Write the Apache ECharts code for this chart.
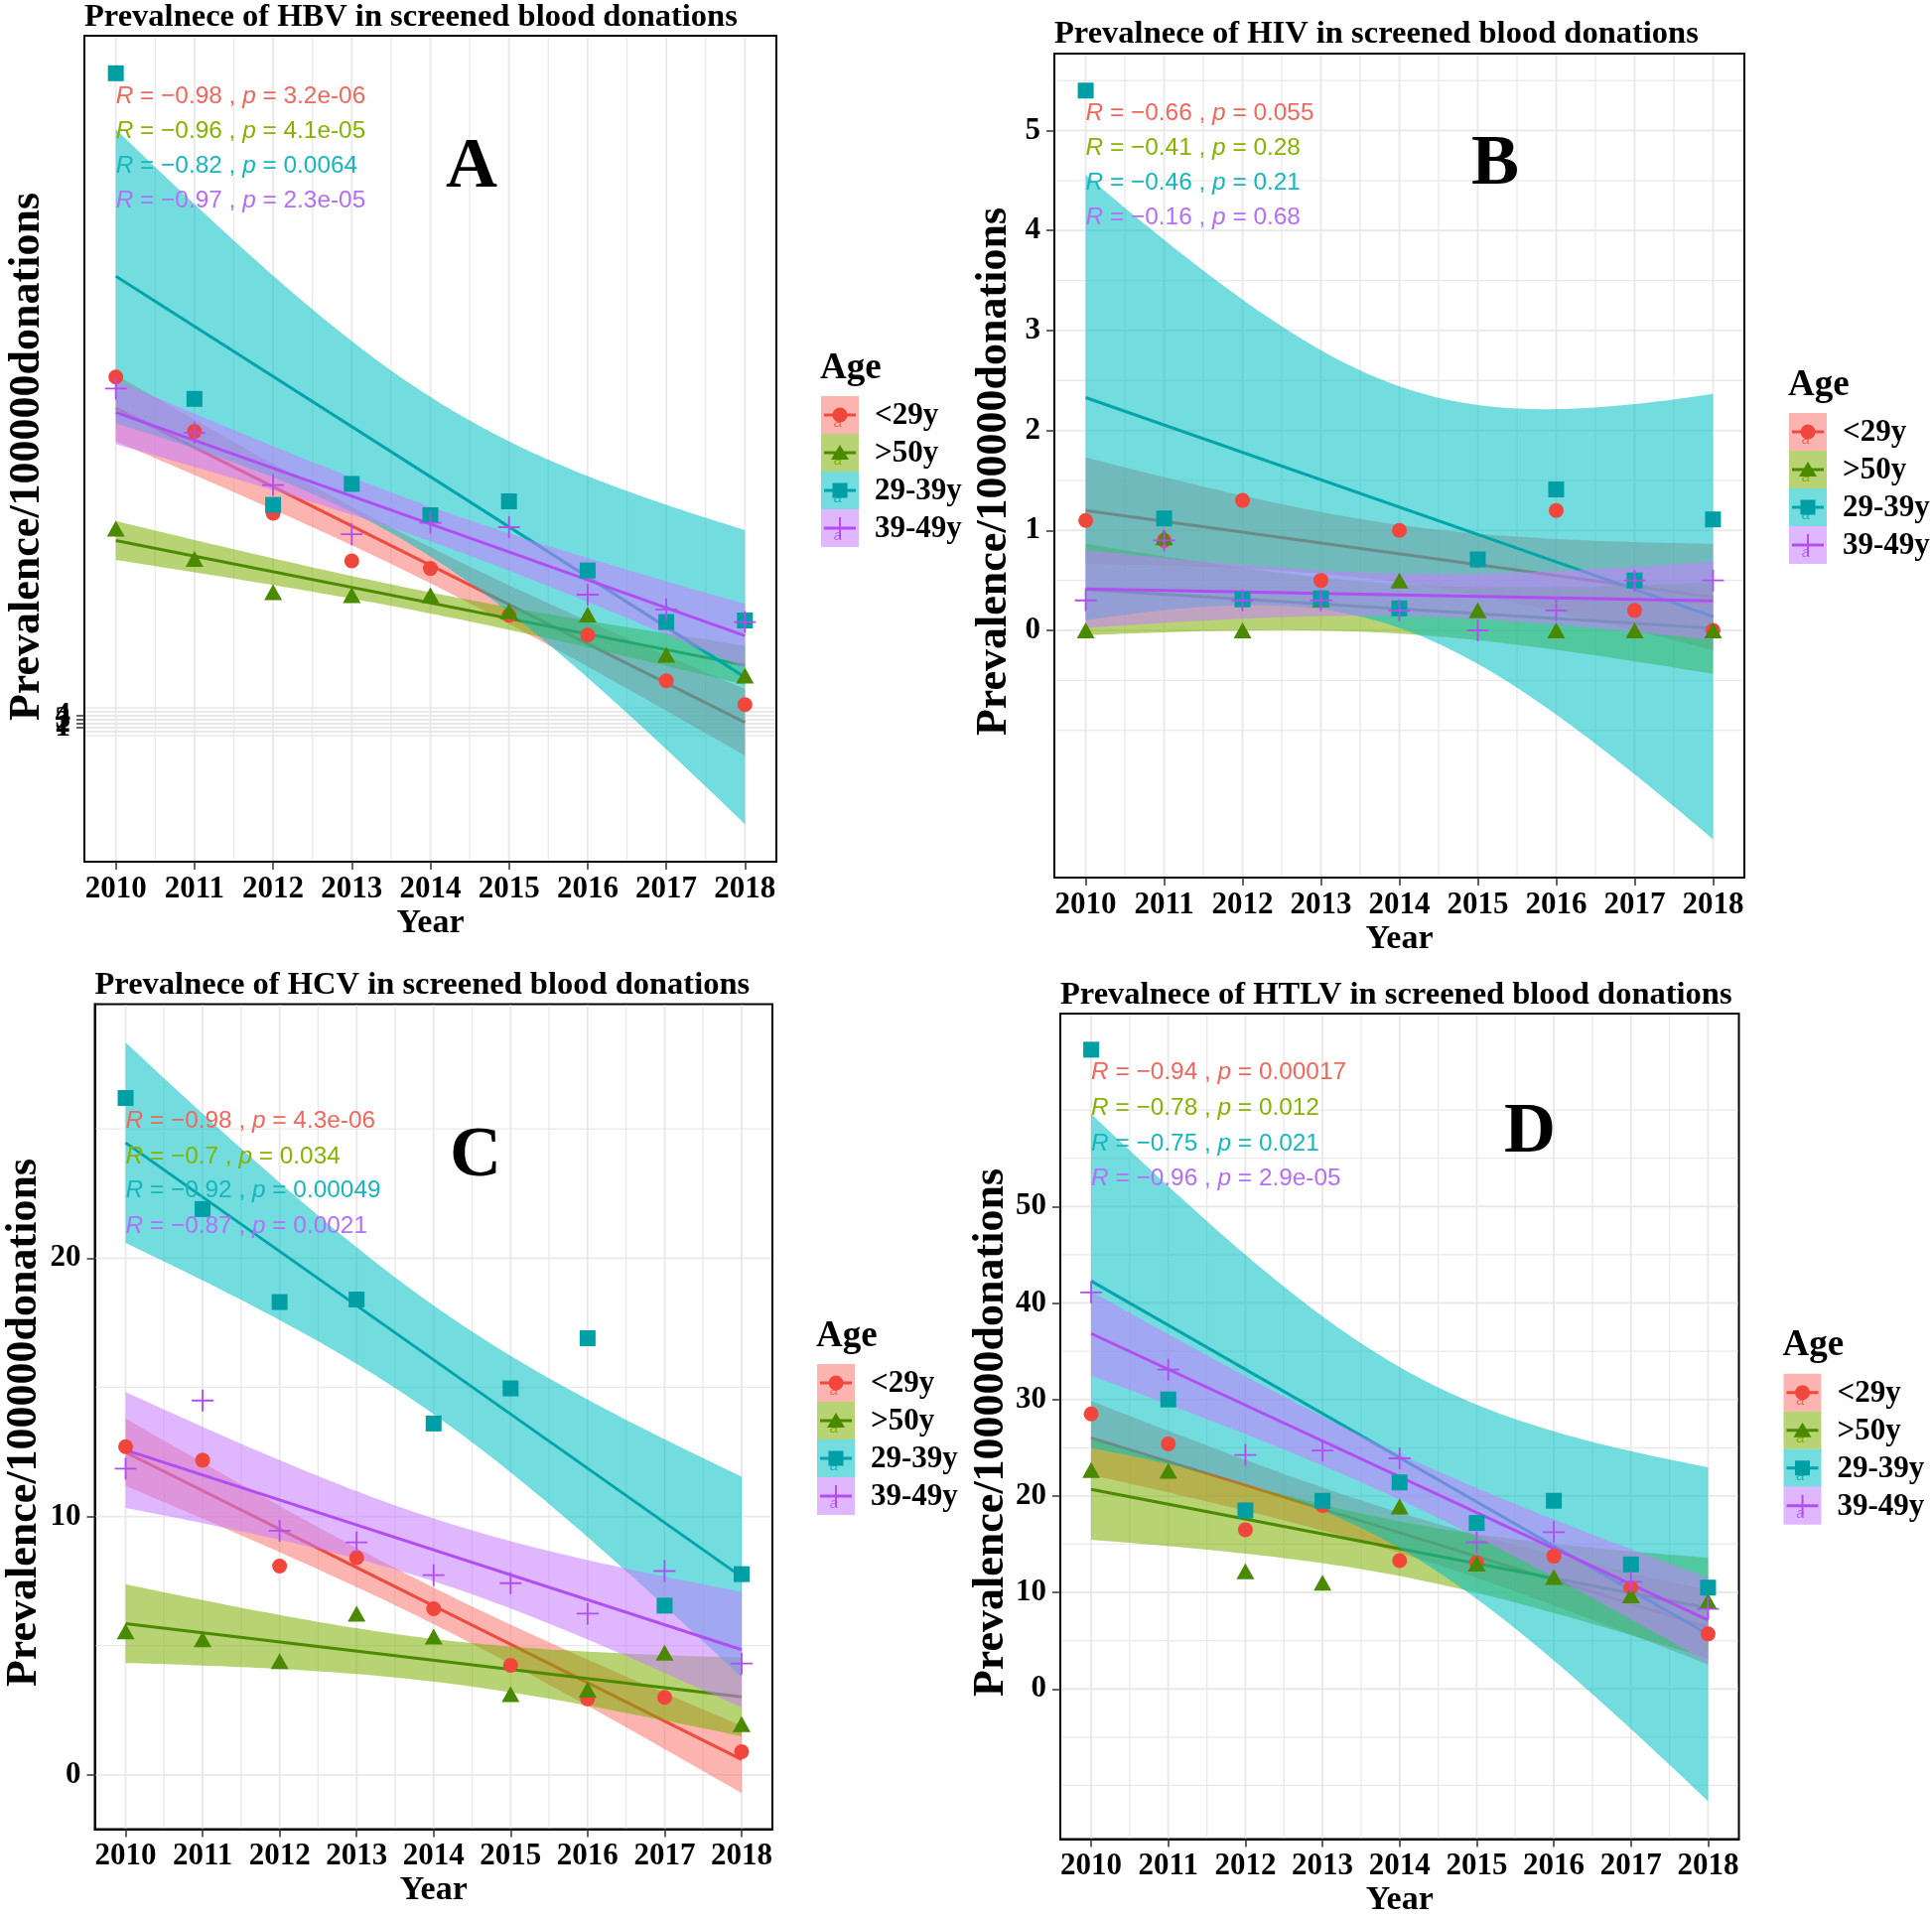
<!DOCTYPE html>
<html><head><meta charset="utf-8">
<script src="https://cdn.jsdelivr.net/npm/echarts@6/dist/echarts.min.js"></script>
<style>html,body{margin:0;padding:0;background:#fff}#c{width:1946px;height:1931px}</style>
</head><body><div id="c"></div>
<script>
// ---------------- DATA ----------------
const years = [2010, 2011, 2012, 2013, 2014, 2015, 2016, 2017, 2018];
const ageGroups = ['<29y', '>50y', '29-39y', '39-49y'];

// HBV (panel A)
const hbvUnder29 = [89.3, 75.6, 55.0, 43.0, 41.1, 29.3, 24.3, 12.8, 6.8];
const hbvOver50  = [51.1, 43.5, 35.1, 34.4, 34.4, 30.3, 29.5, 19.4, 14.1];
const hbv29to39  = [165.8, 83.8, 57.1, 62.4, 54.5, 58.0, 40.6, 27.6, 28.0];
const hbv39to49  = [86.4, 75.3, 62.1, 49.7, 52.6, 51.5, 34.5, 30.8, 27.6];
const hbvR = ['−0.98', '−0.96', '−0.82', '−0.97'];
const hbvP = ['3.2e-06', '4.1e-05', '0.0064', '2.3e-05'];
const hbvYTicks = [0, 1, 2, 3, 4, 5];

// HIV (panel B)
const hivUnder29 = [1.1, 0.9, 1.3, 0.5, 1.0, 0.7, 1.2, 0.2, 0.0];
const hivOver50  = [0.0, 0.93, 0.0, 0.31, 0.5, 0.2, 0.0, 0.0, 0.0];
const hiv29to39  = [5.4, 1.12, 0.31, 0.32, 0.22, 0.71, 1.41, 0.5, 1.11];
const hiv39to49  = [0.3, 0.9, 0.3, 0.3, 0.2, 0.0, 0.2, 0.5, 0.5];
const hivR = ['−0.66', '−0.41', '−0.46', '−0.16'];
const hivP = ['0.055', '0.28', '0.21', '0.68'];
const hivYTicks = [0, 1, 2, 3, 4, 5];

// HCV (panel C)
const hcvUnder29 = [12.7, 12.18, 8.08, 8.41, 6.43, 4.24, 2.94, 3.0, 0.9];
const hcvOver50  = [5.56, 5.25, 4.4, 6.24, 5.35, 3.13, 3.3, 4.73, 1.96];
const hcv29to39  = [26.2, 21.9, 18.3, 18.4, 13.6, 14.96, 16.9, 6.55, 7.77];
const hcv39to49  = [11.85, 14.49, 9.45, 9.0, 7.73, 7.42, 6.24, 7.89, 4.31];
const hcvR = ['−0.98', '−0.7', '−0.92', '−0.87'];
const hcvP = ['4.3e-06', '0.034', '0.00049', '0.0021'];
const hcvYTicks = [0, 10, 20];

// HTLV (panel D)
const htlvUnder29 = [28.5, 25.4, 16.5, 19.0, 13.3, 13.1, 13.75, 10.5, 5.7];
const htlvOver50  = [22.7, 22.6, 12.2, 11.0, 18.9, 13.0, 11.6, 9.7, 9.1];
const htlv29to39  = [66.25, 30.0, 18.5, 19.5, 21.4, 17.2, 19.5, 12.9, 10.5];
const htlv39to49  = [41.1, 33.1, 24.25, 24.7, 23.9, 15.2, 16.25, 11.1, 8.3];
const htlvR = ['−0.94', '−0.78', '−0.75', '−0.96'];
const htlvP = ['0.00017', '0.012', '0.021', '2.9e-05'];
const htlvYTicks = [0, 10, 20, 30, 40, 50];

// grid line positions (major + minor breaks)
const xGridLines = [2010, 2010.5, 2011, 2011.5, 2012, 2012.5, 2013, 2013.5, 2014, 2014.5, 2015, 2015.5, 2016, 2016.5, 2017, 2017.5, 2018];
const hbvGridY = [-1, 0, 1, 2, 3, 4, 5, 6];
const hivGridY = [-1, -0.5, 0, 0.5, 1, 1.5, 2, 2.5, 3, 3.5, 4, 4.5, 5, 5.5, 6];
const hcvGridY = [0, 5, 10, 15, 20, 25];
const htlvGridY = [-10, -5, 0, 5, 10, 15, 20, 25, 30, 35, 40, 45, 50, 55, 60];

// ---------------- STYLE / LAYOUT ----------------
const SERIF = '"Liberation Serif", "DejaVu Serif", serif';
const SANS = '"Liberation Sans", Arial, sans-serif';
const lineColors = ['#EE4A3E', '#4C8A00', '#00A5AC', '#B04EF2'];
const pointColors = ['#F0463C', '#4A8A00', '#009FA6', '#B04EF2'];
const fillColors = ['rgba(248,118,109,0.55)', 'rgba(124,174,0,0.55)', 'rgba(0,191,196,0.55)', 'rgba(199,124,255,0.55)'];
const textColors = ['#F0675B', '#86B300', '#16B6BE', '#B56EF8'];
const PLUS = 'path://M-1,-12L1,-12L1,-1L12,-1L12,1L1,1L1,12L-1,12L-1,1L-12,1L-12,-1L-1,-1Z';
const symbols = ['circle', 'triangle', 'rect', PLUS];
const symbolSizes = [15, [18, 16], 16, 22];
const XMIN = 2009.6, XMAX = 2018.4;
const T975 = 2.364624; // t quantile, df = 7

const panels = [
  { letter: 'A', title: 'Prevalnece of HBV in screened blood donations',
    values: [hbvUnder29, hbvOver50, hbv29to39, hbv39to49], R: hbvR, P: hbvP,
    yTicks: hbvYTicks, gridY: hbvGridY, yMin: -32.75, yMax: 175.25,
    box: { left: 85, top: 36, width: 697, height: 832 }, titleY: 17.5,
    letterPos: [475, 167], statY: [97, 132, 167.5, 202.7], yTitle: [28, 460] },
  { letter: 'B', title: 'Prevalnece of HIV in screened blood donations',
    values: [hivUnder29, hivOver50, hiv29to39, hiv39to49], R: hivR, P: hivP,
    yTicks: hivYTicks, gridY: hivGridY, yMin: -2.473, yMax: 5.77,
    box: { left: 1062, top: 54, width: 695, height: 830 }, titleY: 35,
    letterPos: [1506, 164], statY: [114, 149, 184, 219], yTitle: [1002, 475] },
  { letter: 'C', title: 'Prevalnece of HCV in screened blood donations',
    values: [hcvUnder29, hcvOver50, hcv29to39, hcv39to49], R: hcvR, P: hcvP,
    yTicks: hcvYTicks, gridY: hcvGridY, yMin: -2.10, yMax: 29.83,
    box: { left: 95.5, top: 1011.5, width: 682.5, height: 831 }, titleY: 993,
    letterPos: [479, 1163], statY: [1129.5, 1165, 1199.4, 1235], yTitle: [25, 1433] },
  { letter: 'D', title: 'Prevalnece of HTLV in screened blood donations',
    values: [htlvUnder29, htlvOver50, htlv29to39, htlv39to49], R: htlvR, P: htlvP,
    yTicks: htlvYTicks, gridY: htlvGridY, yMin: -15.56, yMax: 69.99,
    box: { left: 1068, top: 1021, width: 683.5, height: 831.5 }, titleY: 1003,
    letterPos: [1541, 1139], statY: [1080, 1116.6, 1151.8, 1187], yTitle: [999, 1443] }
];

function lmFit(xs, ys) {
  const n = xs.length;
  const mx = xs.reduce((a, b) => a + b, 0) / n;
  const my = ys.reduce((a, b) => a + b, 0) / n;
  let sxx = 0, sxy = 0;
  for (let i = 0; i < n; i++) { sxx += (xs[i] - mx) ** 2; sxy += (xs[i] - mx) * (ys[i] - my); }
  const b = sxy / sxx, a = my - b * mx;
  let sse = 0;
  for (let i = 0; i < n; i++) sse += (ys[i] - a - b * xs[i]) ** 2;
  const s = Math.sqrt(sse / (n - 2));
  return { a, b, s, mx, sxx, n };
}

const option = { backgroundColor: '#fff', animation: false, grid: [], xAxis: [], yAxis: [], series: [], graphic: { elements: [] } };
const G = option.graphic.elements;

function txt(x, y, text, font, fill, align, valign, extra) {
  const el = { type: 'text', x: x, y: y, z: 100, silent: true,
    style: { text: text, font: font, fill: fill, textAlign: align, textVerticalAlign: valign, align: align, verticalAlign: valign } };
  return Object.assign(el, extra || {});
}

const labelStyle = { fontFamily: SERIF, fontWeight: 'bold', fontSize: 31, color: '#000' };

panels.forEach((p, pi) => {
  const b = p.box;
  option.grid.push({ left: b.left, top: b.top, width: b.width, height: b.height, show: true,
    borderColor: '#000', borderWidth: 2, backgroundColor: '#fff', containLabel: false });
  option.xAxis.push({ type: 'value', gridIndex: pi, min: XMIN, max: XMAX,
    axisLine: { show: true, onZero: false, lineStyle: { color: '#000', width: 2 } },
    splitLine: { show: false },
    axisTick: { show: true, customValues: years, length: 8, lineStyle: { color: '#333', width: 1.5 } },
    axisLabel: Object.assign({ customValues: years, margin: 12, formatter: v => String(v) }, labelStyle) });
  option.yAxis.push({ type: 'value', gridIndex: pi, min: p.yMin, max: p.yMax,
    axisLine: { show: true, onZero: false, lineStyle: { color: '#000', width: 2 } },
    splitLine: { show: false },
    axisTick: { show: true, customValues: p.yTicks, length: 8, lineStyle: { color: '#333', width: 1.5 } },
    axisLabel: Object.assign({ customValues: p.yTicks, margin: 14, formatter: v => String(v) }, labelStyle) });

  // grid lines (flag: 0 vertical, 1 horizontal; 4th value 1 = major)
  const gridData = [];
  xGridLines.forEach(v => gridData.push([v, (p.yMin + p.yMax) / 2, 0, years.indexOf(v) >= 0 ? 1 : 0]));
  p.gridY.forEach(v => { if (v > p.yMin && v < p.yMax) gridData.push([2014, v, 1, p.yTicks.indexOf(v) >= 0 ? 1 : 0]); });
  option.series.push({ type: 'custom', xAxisIndex: pi, yAxisIndex: pi, z: 1, silent: true,
    data: gridData, encode: { x: 0, y: 1 },
    renderItem: (params, api) => {
      const cs = params.coordSys;
      const pt = api.coord([api.value(0), api.value(1)]);
      const st = { stroke: '#E9E9E9', lineWidth: api.value(3) === 1 ? 1.9 : 1.3 };
      if (api.value(2) === 0) return { type: 'line', shape: { x1: pt[0], y1: cs.y + 1, x2: pt[0], y2: cs.y + cs.height - 1 }, style: st };
      return { type: 'line', shape: { x1: cs.x + 1, y1: pt[1], x2: cs.x + cs.width - 1, y2: pt[1] }, style: st };
    } });

  // bands + fitted lines, in group order
  p.values.forEach((vals, g) => {
    const f = lmFit(years, vals);
    const band = [];
    for (let k = 0; k <= 80; k++) {
      const x = 2010 + k * 0.1;
      const yh = f.a + f.b * x;
      const se = f.s * Math.sqrt(1 / f.n + (x - f.mx) ** 2 / f.sxx);
      band.push([x, yh - T975 * se, yh + T975 * se]);
    }
    option.series.push({ type: 'custom', xAxisIndex: pi, yAxisIndex: pi, z: 2 + 2 * g, silent: true, clip: true,
      data: band, encode: { x: 0, y: [1, 2] },
      renderItem: (params, api) => {
        if (params.dataIndex !== 0) return null;
        const up = band.map(d => api.coord([d[0], d[2]]));
        const lo = band.map(d => api.coord([d[0], d[1]])).reverse();
        return { type: 'polygon', shape: { points: up.concat(lo) }, style: { fill: fillColors[g] } };
      } });
    option.series.push({ type: 'line', xAxisIndex: pi, yAxisIndex: pi, z: 3 + 2 * g, silent: true,
      data: [[2010, f.a + f.b * 2010], [2018, f.a + f.b * 2018]], symbol: 'none', showSymbol: false,
      lineStyle: { color: lineColors[g], width: 3 } });
  });
  // points
  p.values.forEach((vals, g) => {
    option.series.push({ type: 'scatter', xAxisIndex: pi, yAxisIndex: pi, z: 12 + g, silent: true,
      data: years.map((y, i) => [y, vals[i]]), symbol: symbols[g], symbolSize: symbolSizes[g],
      itemStyle: { color: pointColors[g], opacity: 1 } });
  });

  // texts
  G.push(txt(b.left, p.titleY, p.title, 'bold 32.5px ' + SERIF, '#000', 'left', 'middle'));
  G.push(txt(p.letterPos[0], p.letterPos[1] + 2, p.letter, 'bold 72px ' + SERIF, '#000', 'center', 'middle'));
  G.push(txt(b.left + b.width / 2, b.top + b.height + 62, 'Year', 'bold 34px ' + SERIF, '#000', 'center', 'middle'));
  G.push(txt(p.yTitle[0], p.yTitle[1], 'Prevalence/100000donations', 'bold 44px ' + SERIF, '#000', 'center', 'middle', { rotation: Math.PI / 2 }));
  const x2010 = b.left + (2010 - XMIN) / (XMAX - XMIN) * b.width;
  p.R.forEach((r, g) => {
    const c = textColors[g];
    G.push({ type: 'text', x: x2010, y: p.statY[g], z: 100, silent: true,
      style: { text: '{i|R}{n| = ' + r + ' , }{i|p}{n| = ' + p.P[g] + '}', font: '24.4px ' + SANS, fill: c,
        textAlign: 'left', textVerticalAlign: 'middle', align: 'left', verticalAlign: 'middle',
        rich: { i: { fontStyle: 'italic', fontSize: 24.4, fontFamily: SANS, fill: c }, n: { fontSize: 24.4, fontFamily: SANS, fill: c } } } });
  });

  // legend
  const L = b.left + b.width + 45;
  const T0 = b.top + b.height / 2 - 53;
  G.push(txt(L - 1, T0 - 28, 'Age', 'bold 37px ' + SERIF, '#000', 'left', 'middle'));
  ageGroups.forEach((name, g) => {
    const ky = T0 + 38 * g, cx = L + 19, cy = ky + 19;
    G.push({ type: 'rect', z: 100, silent: true, shape: { x: L, y: ky, width: 38, height: 38 }, style: { fill: fillColors[g] } });
    G.push({ type: 'line', z: 101, silent: true, shape: { x1: L + 3, y1: cy, x2: L + 35, y2: cy }, style: { stroke: lineColors[g], lineWidth: 3 } });
    G.push(txt(cx - 2, cy + 8, 'a', 'italic 15px ' + SANS, textColors[g], 'center', 'middle', { z: 101 }));
    if (g === 0) G.push({ type: 'circle', z: 102, silent: true, shape: { cx: cx, cy: cy, r: 7.5 }, style: { fill: pointColors[g] } });
    if (g === 1) G.push({ type: 'polygon', z: 102, silent: true, shape: { points: [[cx, cy - 8], [cx + 9, cy + 7], [cx - 9, cy + 7]] }, style: { fill: pointColors[g] } });
    if (g === 2) G.push({ type: 'rect', z: 102, silent: true, shape: { x: cx - 7.5, y: cy - 7.5, width: 15, height: 15 }, style: { fill: pointColors[g] } });
    if (g === 3) G.push({ type: 'rect', z: 102, silent: true, shape: { x: cx - 1, y: cy - 11, width: 2, height: 22 }, style: { fill: pointColors[g] } });
    G.push(txt(L + 54, cy + 1, name, 'bold 31px ' + SERIF, '#000', 'left', 'middle'));
  });
});

const chart = echarts.init(document.getElementById('c'), null, { renderer: 'canvas' });
chart.setOption(option);
</script>
</body></html>
